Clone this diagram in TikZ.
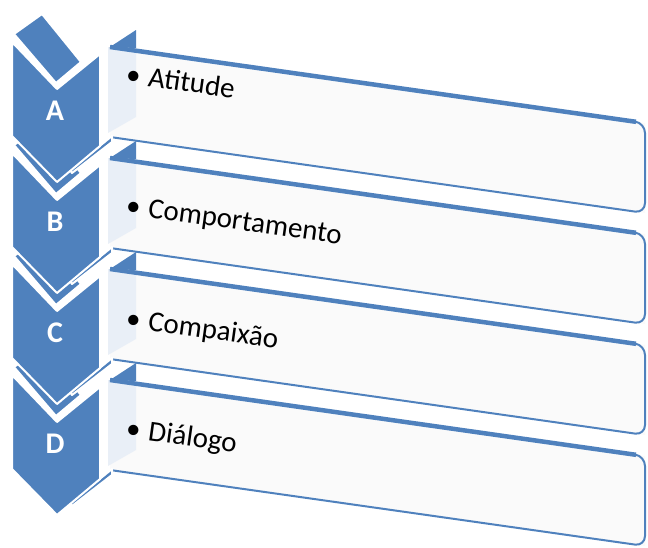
\documentclass[tikz,border=0pt]{standalone}
\usepackage{fontspec}
\setmainfont{Carlito}
\usetikzlibrary{calc}
\definecolor{chevblue}{HTML}{4F81BD}
\definecolor{sideblue}{HTML}{E9EFF7}
\definecolor{panelfill}{HTML}{FAFAFA}
\tikzset{
  chev/.style={fill=chevblue,draw=white,line width=2pt,line join=round},
  rim/.style={draw=chevblue,line width=2pt,rounded corners=10pt},
  letter/.style={text=white,font=\bfseries\fontsize{30}{36}\selectfont},
  item/.style={anchor=base west,rotate=-8,inner sep=0pt,
    font=\fontsize{29}{34}\selectfont}
}
\begin{document}
\begin{tikzpicture}[x=1pt,y=-1pt]
  \useasboundingbox (0,0) rectangle (648,547);

  \foreach \i in {0,...,3}{
    \pgfmathsetmacro{\P}{47+111*\i}
    \fill[panelfill] (110,\P) -- (645,\P+76) -- (645,\P+166) -- (110,\P+90) -- cycle;
    \fill[sideblue] (108,\P) -- (136,\P) -- (136,\P+70) -- (108,\P+86) -- cycle;
    \draw[rim] (110,\P+90) -- (645,\P+166) -- (645,\P+76) -- (110,\P);
    \draw[chevblue,line width=4.5pt] (110,\P) -- (636,\P+74.8);
    \fill[chevblue] (110,\P) -- (136,\P-17) -- (136,\P+1) -- cycle;
  }

  \foreach \i in {3,2,1,0}{
    \pgfmathsetmacro{\T}{42+111*\i}
    \path[chev] (14,\T-8) -- (42,\T-28) -- (81,\T+20) -- (56,\T+41) -- cycle;
    \path[chev] (70,\T+128) -- (112,\T+94) -- (112,\T+100) -- (72,\T+131) -- cycle;
    \path[chev] (12,\T) -- (57,\T+47) -- (100,\T+12) -- (100,\T+104)
      -- (57,\T+140) -- (12,\T+94) -- cycle;
  }

  \node[letter] (A) at (55,111) {A};
  \node[letter] (B) at (55,222) {B};
  \node[letter] (C) at (55,333) {C};
  \node[letter] (D) at (55,444) {D};

  \node[item] (atitude) at (125,83) {\textbullet\hspace{8pt}Atitude};
  \node[item] (comportamento) at (125,214) {\textbullet\hspace{8pt}Comportamento};
  \node[item] (compaixao) at (125,327) {\textbullet\hspace{8pt}Compaixão};
  \node[item] (dialogo) at (125,437) {\textbullet\hspace{8pt}Diálogo};
\end{tikzpicture}
\end{document}
